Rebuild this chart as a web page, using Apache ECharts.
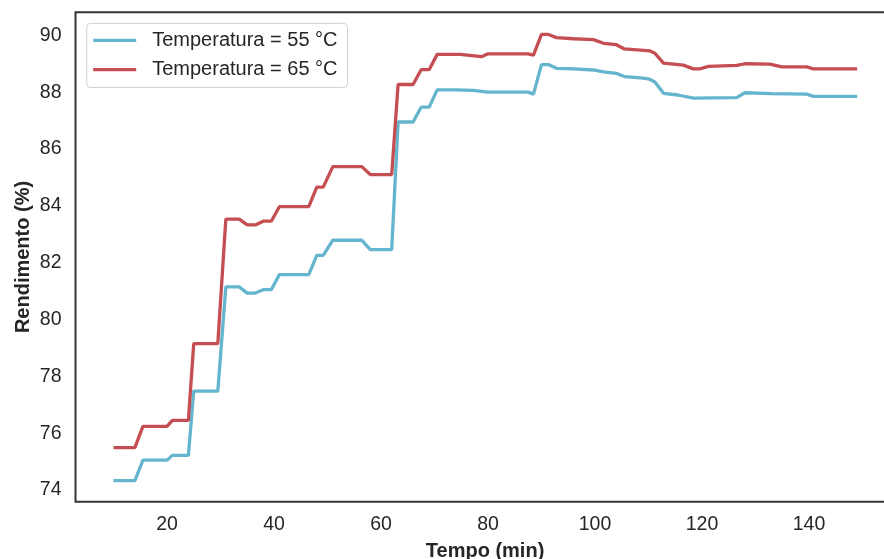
<!DOCTYPE html>
<html>
<head>
<meta charset="utf-8">
<script src="https://cdn.jsdelivr.net/npm/echarts@6/dist/echarts.min.js"></script>
<style>
html,body{margin:0;padding:0;background:#fff;}
#chart{width:884px;height:559px;}
</style>
</head>
<body>
<div id="chart"></div>
<script>
// Series names
const seriesNames = ['Temperatura = 55 °C', 'Temperatura = 65 °C'];

// 55 °C series (time in min, yield in %)
const time55 = [10, 14, 15.5, 20, 21, 24, 25, 29.5, 31, 33.5, 35, 36.5, 38, 39.5, 41, 46.5, 48, 49.2, 51, 56.4, 58, 62, 63.2, 66, 67.5, 69, 70.5, 74, 77.3, 80, 87.5, 88.5, 90, 91.3, 92.8, 96, 99.7, 101.6, 104, 105.5, 108.5, 110, 111.2, 112.8, 115.5, 118.4, 126.5, 128, 133, 139.6, 140.8, 149];
const yield55 = [74.33, 74.33, 75.05, 75.05, 75.22, 75.22, 77.48, 77.48, 81.15, 81.15, 80.93, 80.93, 81.05, 81.05, 81.58, 81.58, 82.26, 82.26, 82.79, 82.79, 82.46, 82.46, 86.95, 86.95, 87.47, 87.47, 88.08, 88.08, 88.06, 88.0, 88.0, 87.93, 88.97, 88.97, 88.84, 88.82, 88.78, 88.71, 88.66, 88.55, 88.5, 88.47, 88.36, 87.96, 87.9, 87.79, 87.81, 87.98, 87.95, 87.93, 87.85, 87.85];

// 65 °C series
const time65 = [10, 14, 15.5, 20, 21, 24, 25, 29.5, 31, 33.5, 35, 36.5, 38, 39.5, 41, 46.5, 48, 49.2, 51, 56.4, 58, 62, 63.2, 66, 67.5, 69, 70.5, 74.8, 78.8, 80, 87.5, 88.5, 90, 91.3, 92.8, 96, 99.7, 101.6, 104, 105.5, 108.5, 110.3, 111.2, 112.8, 116.5, 118.4, 119.6, 121.2, 126.5, 128, 132.7, 134.9, 139.6, 140.8, 149];
const yield65 = [75.49, 75.49, 76.24, 76.24, 76.45, 76.45, 79.15, 79.15, 83.53, 83.53, 83.33, 83.33, 83.46, 83.46, 83.97, 83.97, 84.66, 84.66, 85.38, 85.38, 85.1, 85.1, 88.27, 88.27, 88.79, 88.79, 89.33, 89.33, 89.25, 89.35, 89.35, 89.3, 90.03, 90.03, 89.92, 89.88, 89.85, 89.72, 89.67, 89.52, 89.48, 89.45, 89.37, 89.02, 88.95, 88.82, 88.82, 88.91, 88.94, 89.0, 88.99, 88.89, 88.89, 88.82, 88.82];

const seriesColors = ['#64B5CD', '#C44E52'];

const data55 = time55.map((t, i) => [t, yield55[i]]);
const data65 = time65.map((t, i) => [t, yield65[i]]);

const chart = echarts.init(document.getElementById('chart'), null, {renderer: 'canvas'});
const font = 'Liberation Sans, Arial, sans-serif';
const textColor = '#262626';

chart.setOption({
  animation: false,
  backgroundColor: '#ffffff',
  grid: {
    left: 75.5, top: 12.3, right: -10.6, bottom: 57.3,
    containLabel: false,
    outerBoundsMode: 'none',
    show: true, borderColor: '#333333', borderWidth: 2, backgroundColor: 'transparent'
  },
  legend: {
    orient: 'vertical',
    left: 86.7, top: 23.3,
    padding: [7, 10, 8, 6.5],
    itemGap: 9.3,
    itemWidth: 43, itemHeight: 3.3,
    icon: 'rect',
    backgroundColor: '#ffffff',
    borderColor: '#d0d0d0', borderWidth: 1, borderRadius: 4,
    textStyle: {fontFamily: font, fontSize: 20, color: textColor, padding: [0, 0, 0, 11]},
    data: seriesNames
  },
  xAxis: {
    type: 'value',
    min: 2.9, max: 156,
    minInterval: 20, maxInterval: 20,
    name: 'Tempo (min)',
    nameLocation: 'middle',
    nameGap: 40,
    nameMoveOverlap: false,
    nameTextStyle: {fontFamily: font, fontSize: 20, fontWeight: 'bold', color: textColor},
    axisLine: {show: false},
    axisTick: {show: false},
    splitLine: {show: false},
    axisLabel: {
      fontFamily: font, fontSize: 19.5, color: textColor, margin: 13,
      formatter: v => (Math.abs(v - Math.round(v / 20) * 20) < 1e-6 ? String(Math.round(v)) : '')
    }
  },
  yAxis: {
    type: 'value',
    min: 73.59, max: 90.81,
    minInterval: 2, maxInterval: 2,
    name: 'Rendimento (%)',
    nameLocation: 'middle',
    nameGap: 42,
    nameMoveOverlap: false,
    nameTextStyle: {fontFamily: font, fontSize: 20, fontWeight: 'bold', color: textColor},
    axisLine: {show: false},
    axisTick: {show: false},
    splitLine: {show: false},
    axisLabel: {
      fontFamily: font, fontSize: 19.5, color: textColor, margin: 14,
      formatter: v => (Math.abs(v - Math.round(v / 2) * 2) < 1e-6 ? String(Math.round(v)) : '')
    }
  },
  series: [
    {
      name: seriesNames[0], type: 'line', data: data55, showSymbol: false, symbol: 'none',
      lineStyle: {color: seriesColors[0], width: 3.3}, itemStyle: {color: seriesColors[0]}, z: 2
    },
    {
      name: seriesNames[1], type: 'line', data: data65, showSymbol: false, symbol: 'none',
      lineStyle: {color: seriesColors[1], width: 3.3}, itemStyle: {color: seriesColors[1]}, z: 3
    }
  ]
});
</script>
</body>
</html>
